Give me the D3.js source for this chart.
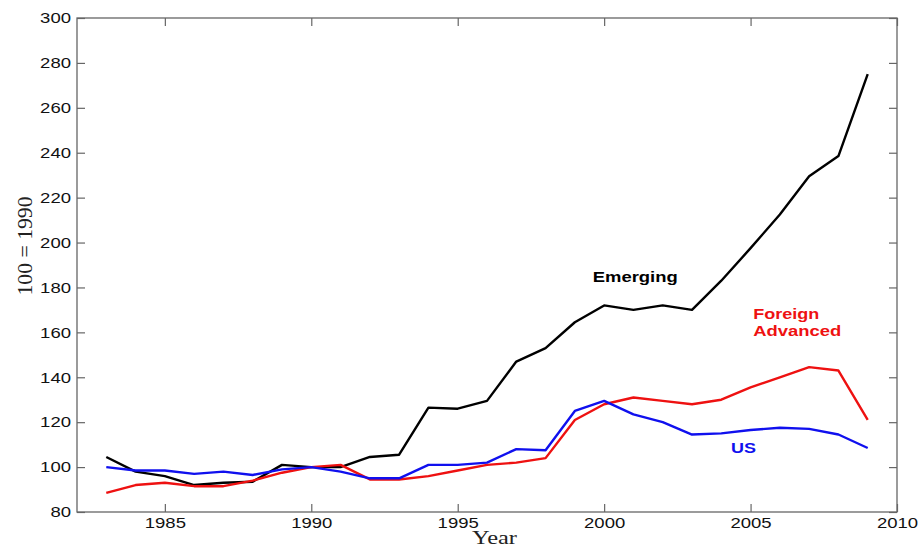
<!DOCTYPE html>
<html>
<head>
<meta charset="utf-8">
<script src="https://cdn.jsdelivr.net/npm/d3@7"></script>
<style>
  body { margin: 0; background: #fff; }
  svg text { font-family: Arial, "Liberation Sans", sans-serif; }
</style>
</head>
<body>
<div id="chart"></div>
<script>
// Index levels, 100 = 1990
const years = d3.range(1983, 2010);
const emerging = [104.5, 98, 96, 92, 93, 93.5, 101, 100, 100, 104.5, 105.5, 126.5, 126, 129.5, 147, 153, 164.5, 172, 170, 172, 170, 183, 197.5, 212.5, 229.5, 238.5, 275];
const foreignAdvanced = [88.5, 92, 93, 91.5, 91.5, 94, 97.5, 100, 101, 94.5, 94.5, 96, 98.5, 101, 102, 104, 121, 128, 131, 129.5, 128, 130, 135.5, 140, 144.5, 143, 121];
const us = [100, 98.5, 98.5, 97, 98, 96.5, 99, 100, 98, 95, 95, 101, 101, 102, 108, 107.5, 125, 129.5, 123.5, 120, 114.5, 115, 116.5, 117.5, 117, 114.5, 108.5];
const xTicks = [1985, 1990, 1995, 2000, 2005, 2010];
const yTicks = [80, 100, 120, 140, 160, 180, 200, 220, 240, 260, 280, 300];

const series = [
  { name: "Emerging", values: emerging, color: "#000000" },
  { name: "Foreign Advanced", values: foreignAdvanced, color: "#ee1111" },
  { name: "US", values: us, color: "#1010ee" },
];

const width = 923, height = 552;
const margin = { top: 18, right: 26, bottom: 40, left: 77 };
const w = width - margin.left - margin.right;
const h = height - margin.top - margin.bottom;

const svg = d3.select("#chart").append("svg")
  .attr("width", width).attr("height", height);
const g = svg.append("g")
  .attr("transform", `translate(${margin.left},${margin.top})`);

const x = d3.scaleLinear().domain([1982, 2010]).range([0, w]);
const y = d3.scaleLinear().domain([80, 300]).range([h, 0]);

const axisColor = "#666";
const tickLen = 8;

// box
g.append("rect")
  .attr("width", w).attr("height", h)
  .attr("fill", "none").attr("stroke", axisColor).attr("stroke-width", 1.3);

// inward ticks on all four sides
g.append("g").attr("transform", `translate(0,${h})`)
  .call(d3.axisBottom(x).tickValues(xTicks).tickFormat(d3.format("d")).tickSizeInner(-tickLen).tickSizeOuter(0).tickPadding(5))
  .call(s => s.select(".domain").remove());
g.append("g")
  .call(d3.axisTop(x).tickValues(xTicks).tickFormat("").tickSizeInner(-tickLen).tickSizeOuter(0))
  .call(s => s.select(".domain").remove());
g.append("g")
  .call(d3.axisLeft(y).tickValues(yTicks).tickSizeInner(-tickLen).tickSizeOuter(0).tickPadding(6))
  .call(s => s.select(".domain").remove());
g.append("g").attr("transform", `translate(${w},0)`)
  .call(d3.axisRight(y).tickValues(yTicks).tickFormat("").tickSizeInner(-tickLen).tickSizeOuter(0))
  .call(s => s.select(".domain").remove());

g.selectAll(".tick line").attr("stroke", axisColor).attr("stroke-width", 1.2);
// the source picture is stretched sideways, so widen the glyphs a little
g.selectAll(".tick text")
  .filter(function () { return this.textContent !== ""; })
  .attr("fill", "#111")
  .style("font-family", "Arial, 'Liberation Sans', sans-serif")
  .style("font-size", "15px")
  .attr("textLength", function () { return this.textContent.length * 10.3; })
  .attr("lengthAdjust", "spacingAndGlyphs");

// lines
const line = d3.line()
  .x((d, i) => x(years[i]))
  .y(d => y(d));

g.selectAll(".series")
  .data(series)
  .enter()
  .append("path")
  .attr("class", "series")
  .attr("fill", "none")
  .attr("stroke", d => d.color)
  .attr("stroke-width", 2.4)
  .attr("stroke-linejoin", "round")
  .attr("d", d => line(d.values));

// inline labels
const label = (text, yr, val, len, color) => g.append("text")
  .attr("x", x(yr)).attr("y", y(val))
  .attr("fill", color)
  .style("font-family", "Arial, 'Liberation Sans', sans-serif")
  .style("font-size", "14px")
  .style("font-weight", "bold")
  .attr("textLength", len)
  .attr("lengthAdjust", "spacingAndGlyphs")
  .text(text);

label("Emerging", 1999.61, 182.4, 85, "#000");
label("Foreign", 2005.09, 166.1, 66, "#ee1111");
label("Advanced", 2005.09, 158.4, 88, "#ee1111");
label("US", 2004.33, 106.3, 25, "#1010ee");

// axis titles
svg.append("text")
  .attr("x", 472).attr("y", 544)
  .style("font-family", "'Liberation Serif', 'DejaVu Serif', serif")
  .style("font-size", "18px")
  .attr("fill", "#222")
  .attr("textLength", 45)
  .attr("lengthAdjust", "spacingAndGlyphs")
  .text("Year");

svg.append("text")
  .attr("transform", `translate(32,246) rotate(-90)`)
  .attr("text-anchor", "middle")
  .style("font-family", "'Liberation Serif', 'DejaVu Serif', serif")
  .style("font-size", "20px")
  .attr("fill", "#222")
  .attr("textLength", 99)
  .attr("lengthAdjust", "spacingAndGlyphs")
  .text("100 = 1990");
</script>
</body>
</html>
